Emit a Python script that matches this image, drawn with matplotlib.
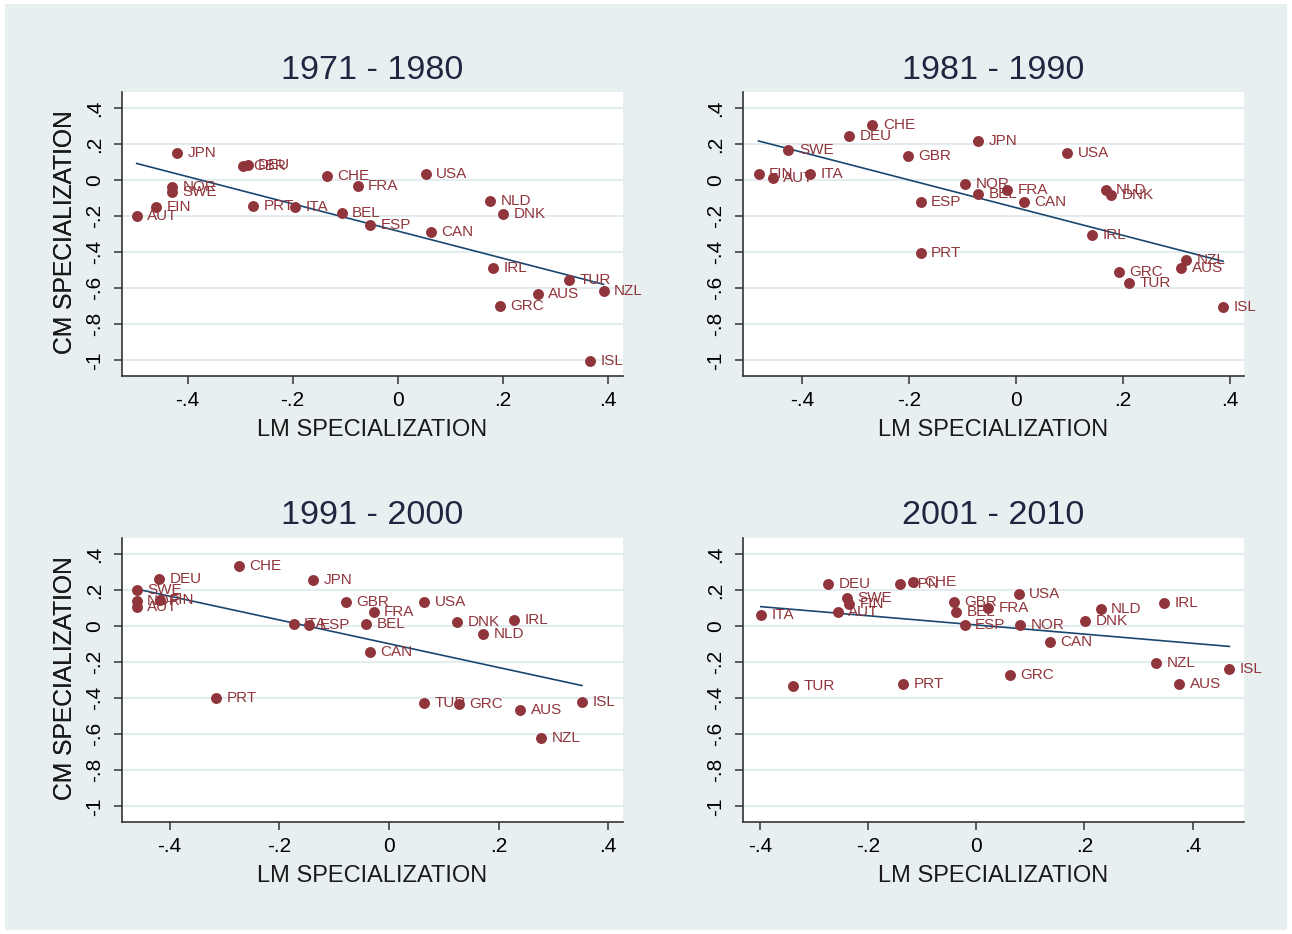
import numpy as np
import matplotlib
matplotlib.use("Agg")
import matplotlib.pyplot as plt
from matplotlib.patches import Rectangle

plt.rcParams['font.family'] = ['Liberation Sans', 'DejaVu Sans']

# ==========================
# Data
# ==========================
titles = ["1971 - 1980", "1981 - 1990", "1991 - 2000", "2001 - 2010"]

codes_7180 = ["JPN", "GBR", "DEU", "CHE", "USA", "FRA", "NOR", "SWE", "FIN", "AUT", "PRT",
              "ITA", "BEL", "ESP", "CAN", "NLD", "DNK", "IRL", "TUR", "AUS", "NZL", "GRC", "ISL"]
lm_7180 = [-0.420, -0.295, -0.286, -0.135, 0.053, -0.076, -0.429, -0.429, -0.460, -0.497, -0.275,
           -0.196, -0.107, -0.053, 0.064, 0.176, 0.201, 0.181, 0.327, 0.267, 0.392, 0.195, 0.366]
cm_7180 = [0.152, 0.078, 0.085, 0.026, 0.037, -0.033, -0.037, -0.063, -0.148, -0.200, -0.141,
           -0.148, -0.181, -0.248, -0.289, -0.115, -0.189, -0.489, -0.556, -0.630, -0.615, -0.696, -1.004]

codes_8190 = ["CHE", "DEU", "JPN", "SWE", "USA", "GBR", "FIN", "AUT", "ITA", "NOR", "BEL", "FRA",
              "ESP", "CAN", "NLD", "DNK", "IRL", "PRT", "GRC", "TUR", "NZL", "AUS", "ISL"]
lm_8190 = [-0.269, -0.312, -0.071, -0.426, 0.095, -0.202, -0.482, -0.455, -0.386, -0.096, -0.071, -0.017,
           -0.179, 0.015, 0.167, 0.177, 0.142, -0.179, 0.192, 0.211, 0.318, 0.309, 0.387]
cm_8190 = [0.304, 0.244, 0.219, 0.167, 0.152, 0.137, 0.037, 0.011, 0.037, -0.022, -0.074, -0.052,
           -0.122, -0.122, -0.052, -0.081, -0.304, -0.404, -0.507, -0.570, -0.444, -0.489, -0.704]

codes_9100 = ["CHE", "DEU", "JPN", "SWE", "FIN", "NOR", "AUT", "GBR", "FRA", "USA", "ITA", "ESP",
              "BEL", "DNK", "IRL", "NLD", "CAN", "PRT", "TUR", "GRC", "AUS", "ISL", "NZL"]
lm_9100 = [-0.274, -0.419, -0.138, -0.460, -0.418, -0.460, -0.460, -0.079, -0.028, 0.064, -0.174, -0.146,
           -0.041, 0.125, 0.229, 0.172, -0.034, -0.315, 0.064, 0.128, 0.240, 0.352, 0.278]
cm_9100 = [0.337, 0.263, 0.256, 0.200, 0.148, 0.141, 0.107, 0.137, 0.078, 0.137, 0.015, 0.007,
           0.015, 0.022, 0.037, -0.044, -0.144, -0.396, -0.426, -0.433, -0.467, -0.419, -0.619]

codes_0110 = ["DEU", "JPN", "CHE", "USA", "SWE", "FIN", "AUT", "ITA", "GBR", "BEL", "FRA", "ESP",
              "NOR", "NLD", "IRL", "DNK", "CAN", "NZL", "ISL", "AUS", "GRC", "TUR", "PRT"]
lm_0110 = [-0.274, -0.140, -0.116, 0.079, -0.238, -0.235, -0.256, -0.398, -0.041, -0.037, 0.022, -0.021,
           0.081, 0.230, 0.348, 0.201, 0.137, 0.333, 0.468, 0.375, 0.062, -0.338, -0.135]
cm_0110 = [0.237, 0.237, 0.244, 0.178, 0.159, 0.126, 0.078, 0.063, 0.133, 0.081, 0.100, 0.007,
           0.007, 0.096, 0.130, 0.030, -0.085, -0.204, -0.237, -0.322, -0.270, -0.330, -0.318]

xlims = [(-0.525, 0.429), (-0.511, 0.426), (-0.487, 0.427), (-0.431, 0.495)]
xticks = [-0.4, -0.2, 0, 0.2, 0.4]
xtick_labels = ["-.4", "-.2", "0", ".2", ".4"]
yticks = [-1, -0.8, -0.6, -0.4, -0.2, 0, 0.2, 0.4]
ytick_labels = ["-1", "-.8", "-.6", "-.4", "-.2", "0", ".2", ".4"]

panels = [(codes_7180, lm_7180, cm_7180), (codes_8190, lm_8190, cm_8190),
          (codes_9100, lm_9100, cm_9100), (codes_0110, lm_0110, cm_0110)]

# ==========================
# Layout (pixel boxes: left, right, top, bottom)
# ==========================
W, H = 1292, 934
boxes = [(122, 623, 92, 376), (743, 1244, 92, 376),
         (122, 623, 538, 822), (743, 1244, 538, 822)]

bg = '#e8eff1'
red = '#90353b'
navy = '#1a476f'

fig = plt.figure(figsize=(W / 100, H / 100), dpi=100, facecolor='white')
fig.patches.append(Rectangle((5 / W, 4 / H), 1 - 10 / W, 1 - 8 / H, transform=fig.transFigure,
                             facecolor=bg, edgecolor='none', zorder=-10))

for i, (codes, lm, cm) in enumerate(panels):
    l, r, t, b = boxes[i]
    ax = fig.add_axes([l / W, (H - b) / H, (r - l) / W, (b - t) / H])
    ax.set_facecolor('white')
    ax.set_xlim(*xlims[i])
    ax.set_ylim(-1.087, 0.49)

    for s in ['top', 'right']:
        ax.spines[s].set_visible(False)
    for s in ['left', 'bottom']:
        ax.spines[s].set_color('#333333')
        ax.spines[s].set_linewidth(1.2)

    ax.set_yticks(yticks)
    ax.set_yticklabels(ytick_labels, rotation=90, va='center', fontsize=15)
    ax.set_xticks(xticks)
    ax.set_xticklabels(xtick_labels, fontsize=15)
    ax.tick_params(axis='both', length=6, width=1.1, color='#333333', direction='out')
    ax.tick_params(axis='y', pad=7)
    ax.tick_params(axis='x', pad=5)
    ax.yaxis.grid(True, color='#e3ecef', linewidth=1.5)
    ax.set_axisbelow(True)

    # fitted line
    x = np.array(lm)
    y = np.array(cm)
    slope, inter = np.polyfit(x, y, 1)
    xs = np.array([x.min(), x.max()])
    ax.plot(xs, inter + slope * xs, color=navy, linewidth=1.2, zorder=2)

    ax.scatter(x, y, s=62, color=red, zorder=3, linewidths=0)
    for c, xv, yv in zip(codes, lm, cm):
        ax.annotate(c, (xv, yv), xytext=(7.5, 0), textcoords='offset points',
                    ha='left', va='center', fontsize=11, color=red, zorder=4)

    ax.set_xlabel("LM SPECIALIZATION", fontsize=17, color='#1a1a1a')
    ax.xaxis.set_label_coords(0.5, (b - (430 + t - 92)) / (b - t))
    ax.set_ylabel("CM SPECIALIZATION", fontsize=17.7, color='#1a1a1a')
    ax.yaxis.set_label_coords((65 - l) / (r - l), (b - (232 + t - 92)) / (b - t))
    ax.xaxis.label.set_va('center')
    ax.yaxis.label.set_va('center')

    ax.text(0.5, (b - (70 + t - 92)) / (b - t), titles[i], transform=ax.transAxes,
            ha='center', va='center', fontsize=24.6, color='#1e2640')

fig.savefig("out.png", dpi=100, facecolor='white')
